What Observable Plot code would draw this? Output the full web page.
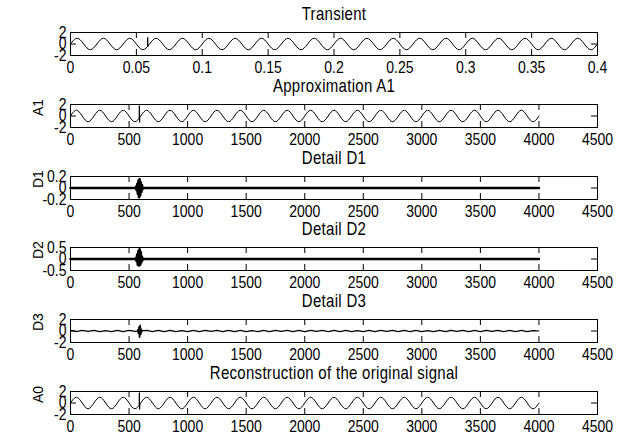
<!DOCTYPE html>
<html>
<head>
<meta charset="utf-8">
<script src="https://cdn.jsdelivr.net/npm/d3@7"></script>
<script src="https://cdn.jsdelivr.net/npm/@observablehq/plot@0.6"></script>
<style>
  body { margin: 0; background: #fff; }
  #chart { position: relative; width: 627px; height: 438px; overflow: hidden; background: #fff; }
  #chart svg { position: absolute; left: 0; }
</style>
</head>
<body>
<div id="chart"></div>
<script>
// ---------- data ----------
const titles = ["Transient", "Approximation A1", "Detail D1", "Detail D2", "Detail D3", "Reconstruction of the original signal"];
const yLabels = ["", "A1", "D1", "D2", "D3", "A0"];

const sampleRate = 10000;          // samples per second (4000 samples over 0.4 s)
const quarterSamples = d3.range(0, 4001, 50); // sample grid at quarter-cycle points (50 Hz)

const transientTicks = [0, 0.05, 0.1, 0.15, 0.2, 0.25, 0.3, 0.35, 0.4];
const sampleTicks = [0, 500, 1000, 1500, 2000, 2500, 3000, 3500, 4000, 4500];
const yTicksWide = [-2, 0, 2];
const yTicksD1 = [-0.2, 0, 0.2];
const yTicksD2 = [-0.5, 0, 0.5];

// 50 Hz waveform at quarter-cycle points (20 cycles)
const transientY = [0,1,0,-1, 0,1,0,-1, 0,1,0,-1, 0,1,0,-1, 0,1,0,-1,
  0,1,0,-1, 0,1,0,-1, 0,1,0,-1, 0,1,0,-1, 0,1,0,-1,
  0,1,0,-1, 0,1,0,-1, 0,1,0,-1, 0,1,0,-1, 0,1,0,-1,
  0,1,0,-1, 0,1,0,-1, 0,1,0,-1, 0,1,0,-1, 0,1,0,-1, 0];
const a1Y = [0,1,0,-1, 0,1,0,-1, 0,1,0,-1, 0,1,0,-1, 0,1,0,-1,
  0,1,0,-1, 0,1,0,-1, 0,1,0,-1, 0,1,0,-1, 0,1,0,-1,
  0,1,0,-1, 0,1,0,-1, 0,1,0,-1, 0,1,0,-1, 0,1,0,-1,
  0,1,0,-1, 0,1,0,-1, 0,1,0,-1, 0,1,0,-1, 0,1,0,-1, 0];
const a0Y = [0,1,0,-1, 0,1,0,-1, 0,1,0,-1, 0,1,0,-1, 0,1,0,-1,
  0,1,0,-1, 0,1,0,-1, 0,1,0,-1, 0,1,0,-1, 0,1,0,-1,
  0,1,0,-1, 0,1,0,-1, 0,1,0,-1, 0,1,0,-1, 0,1,0,-1,
  0,1,0,-1, 0,1,0,-1, 0,1,0,-1, 0,1,0,-1, 0,1,0,-1, 0];

// transient spike near sample 590
const transientSpikeX = [0.0584, 0.0586, 0.0588];
const transientSpikeY = [-0.3, 1.15, -0.4];
const a1SpikeX = [586, 588, 590, 592];
const a1SpikeY = [-0.3, 1.8, -1.1, -0.35];
const a0SpikeX = [586, 588, 590, 592];
const a0SpikeY = [-0.3, 1.8, -1.1, -0.35];

// detail coefficients
const d1X = [0, 555, 560, 565, 570, 575, 580, 585, 590, 595, 600, 605, 610, 615, 620, 4000];
const d1Y = [0, 0, 0.02, -0.04, 0.07, -0.1, 0.13, -0.16, 0.15, -0.13, 0.1, -0.07, 0.05, -0.02, 0, 0];
const d2X = [0, 555, 560, 565, 570, 575, 580, 585, 590, 595, 600, 605, 610, 615, 620, 4000];
const d2Y = [0, 0, 0.05, -0.1, 0.2, -0.26, 0.36, -0.28, 0.42, -0.25, 0.3, -0.15, 0.1, -0.05, 0, 0];
const d3NoiseY = [0.1,-0.1,0.12,-0.08,0.1,-0.12,0.08,-0.1,0.12,-0.1,0.1,-0.08,0.02,0.1,-0.1,0.12,-0.1,0.1,-0.12,0.08,
  -0.1,0.12,-0.1,0.1,-0.08,0.1,-0.12,0.1,-0.1,0.12,-0.1,0.08,-0.1,0.1,-0.12,0.1,-0.08,0.12,-0.1,0.1,
  -0.1,0.12,-0.08,0.1,-0.1,0.1,-0.12,0.1,-0.1,0.08,-0.1,0.12,-0.1,0.1,-0.08,0.1,-0.12,0.1,-0.1,0.12,
  -0.1,0.08,-0.1,0.1,-0.12,0.1,-0.08,0.12,-0.1,0.1,-0.1,0.12,-0.08,0.1,-0.1,0.1,-0.12,0.1,-0.1,0.08,0];
const d3BurstX = [575, 580, 585, 590, 595, 600, 605, 610];
const d3BurstY = [0.2, -0.4, 0.7, -1.1, 1.0, -0.6, 0.3, -0.1];

// ---------- panels ----------
const timeX = quarterSamples.map(s => s / sampleRate);
const panels = [
  {xDomain: [0, 0.4], xTicks: transientTicks, yDomain: [-2, 2], yTicks: yTicksWide,
   layers: [{x: timeX, y: transientY, curve: "natural", w: 1}, {x: transientSpikeX, y: transientSpikeY, curve: "linear", w: 1}]},
  {xDomain: [0, 4500], xTicks: sampleTicks, yDomain: [-2, 2], yTicks: yTicksWide,
   layers: [{x: quarterSamples, y: a1Y, curve: "natural", w: 1}, {x: a1SpikeX, y: a1SpikeY, curve: "linear", w: 1}]},
  {xDomain: [0, 4500], xTicks: sampleTicks, yDomain: [-0.2, 0.2], yTicks: yTicksD1,
   layers: [{x: d1X, y: d1Y, curve: "linear", w: 2.6}]},
  {xDomain: [0, 4500], xTicks: sampleTicks, yDomain: [-0.5, 0.5], yTicks: yTicksD2,
   layers: [{x: d2X, y: d2Y, curve: "linear", w: 2.6}]},
  {xDomain: [0, 4500], xTicks: sampleTicks, yDomain: [-2, 2], yTicks: yTicksWide,
   layers: [{x: quarterSamples, y: d3NoiseY, curve: "linear", w: 1.2}, {x: d3BurstX, y: d3BurstY, curve: "linear", w: 1.6}]},
  {xDomain: [0, 4500], xTicks: sampleTicks, yDomain: [-2, 2], yTicks: yTicksWide,
   layers: [{x: quarterSamples, y: a0Y, curve: "natural", w: 1}, {x: a0SpikeX, y: a0SpikeY, curve: "linear", w: 1}]}
];

const chart = document.getElementById("chart");
const boxW = 527, boxH = 23, mTop = 40, mBottom = 30;
const font = "'Liberation Sans', Arial, sans-serif";
const fs = 14;

panels.forEach((p, k) => {
  const boxTop = 32 + k * 71.8;
  const lineMarks = p.layers.map(L => Plot.line(L.x.map((x, i) => ({x, y: L.y[i]})),
    {x: "x", y: "y", curve: L.curve, stroke: "black", strokeWidth: L.w}));
  const svg = Plot.plot({
    width: 627,
    height: mTop + boxH + mBottom,
    marginLeft: 70, marginRight: 30, marginTop: mTop, marginBottom: mBottom,
    style: `background: transparent; overflow: visible; font-family: ${font}; font-size: ${fs}px; color: black;`,
    x: {domain: p.xDomain, axis: null},
    y: {domain: p.yDomain, axis: null},
    marks: [
      ...lineMarks,
      Plot.frame({stroke: "black", strokeWidth: 1}),
      Plot.tickX(p.xTicks, {x: d => d, insetTop: boxH - 6, stroke: "black"}),
      Plot.tickX(p.xTicks, {x: d => d, insetBottom: boxH - 6, stroke: "black"}),
      Plot.tickY(p.yTicks, {y: d => d, insetRight: boxW - 6, stroke: "black"}),
      Plot.tickY(p.yTicks, {y: d => d, insetLeft: boxW - 6, stroke: "black"}),
      Plot.axisX(p.xTicks, {anchor: "bottom", tickSize: 0, tickPadding: 6, tickFormat: d => String(d), label: null, fontSize: fs, fill: "black"}),
      Plot.axisY(p.yTicks, {anchor: "left", tickSize: 0, tickPadding: 4, tickFormat: d => String(d), label: null, fontSize: fs, fill: "black"}),
      Plot.text([titles[k]], {text: d => d, frameAnchor: "top", dy: -25, fontSize: 15, fill: "black", className: "ttl"}),
      Plot.text([yLabels[k]], {text: d => d, frameAnchor: "left", dx: -32, rotate: -90, fontSize: fs, fill: "black"})
    ]
  });
  svg.style.top = (boxTop - mTop) + "px";
  chart.appendChild(svg);
  // MATLAB-style tall glyphs: append a vertical scale about each text's own anchor
  svg.querySelectorAll("text").forEach(t => {
    const tr = t.getAttribute("transform") || "";
    if (tr.includes("rotate")) return;
    t.setAttribute("transform", `${tr} scale(1,1.2)`);
  });
  svg.querySelectorAll(".ttl text").forEach(t => { t.style.letterSpacing = "0.3px"; });
});
</script>
</body>
</html>
